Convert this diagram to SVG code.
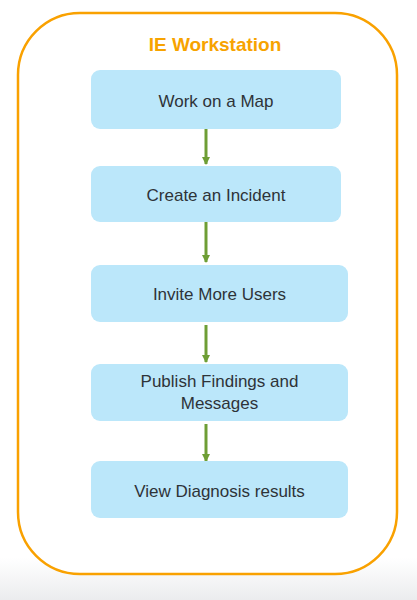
<svg xmlns="http://www.w3.org/2000/svg" width="417" height="600" viewBox="0 0 417 600">
<style>
.box{fill:#BBE7FA;}
.lbl{font-family:"Liberation Sans",Arial,sans-serif;font-size:17px;fill:#2E3338;text-anchor:middle;}
.title{font-family:"Liberation Sans",Arial,sans-serif;font-size:19px;font-weight:bold;fill:#F7A300;text-anchor:middle;}
.conn{stroke:#6E9E35;stroke-width:3;fill:none;marker-end:url(#ah);}
</style>
<defs>
<marker id="ah" viewBox="0 0 8 8" refX="7" refY="4" markerWidth="8" markerHeight="8" markerUnits="userSpaceOnUse" orient="auto">
<path d="M0,0 L8,4 L0,8 Z" fill="#6E9E35"/>
</marker>
<linearGradient id="bg" x1="0" y1="0" x2="0" y2="1">
<stop offset="0" stop-color="#FFFFFF"/>
<stop offset="1" stop-color="#EBECEE"/>
</linearGradient>
</defs>
<rect x="0" y="0" width="417" height="600" fill="#FFFFFF"/>
<rect x="0" y="558" width="417" height="42" fill="url(#bg)"/>
<g id="container">
<rect x="18" y="13" width="379" height="561" rx="62" ry="62" fill="#FFFFFF" stroke="#F9A100" stroke-width="2.5"/>
<text class="title" x="215" y="51">IE Workstation</text>
</g>
<g id="connectors">
<line class="conn" x1="206" y1="129" x2="206" y2="164"/>
<line class="conn" x1="206" y1="222" x2="206" y2="262"/>
<line class="conn" x1="206" y1="325" x2="206" y2="362"/>
<line class="conn" x1="206" y1="424" x2="206" y2="461"/>
</g>
<g id="n1">
<rect class="box" x="91" y="70" width="250" height="59" rx="9"/>
<text class="lbl" x="216" y="107">Work on a Map</text>
</g>
<g id="n2">
<rect class="box" x="91" y="166" width="250" height="56" rx="9"/>
<text class="lbl" x="216" y="201">Create an Incident</text>
</g>
<g id="n3">
<rect class="box" x="91" y="265" width="257" height="57" rx="9"/>
<text class="lbl" x="219.5" y="300">Invite More Users</text>
</g>
<g id="n4">
<rect class="box" x="91" y="364" width="257" height="57" rx="9"/>
<text class="lbl" x="219.5" y="387">Publish Findings and</text>
<text class="lbl" x="219.5" y="409">Messages</text>
</g>
<g id="n5">
<rect class="box" x="91" y="461" width="257" height="57" rx="9"/>
<text class="lbl" x="219.5" y="497">View Diagnosis results</text>
</g>
</svg>
